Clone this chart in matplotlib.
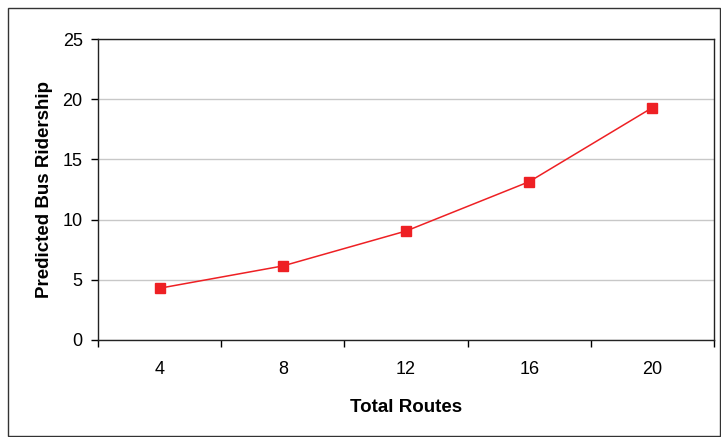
import matplotlib.pyplot as plt
from matplotlib.patches import Rectangle

routes = ["4", "8", "12", "16", "20"]
ridership = [4.3, 6.15, 9.05, 13.15, 19.3]

plt.rcParams['font.family'] = ['Liberation Sans', 'DejaVu Sans']

W, H = 721, 437
fig = plt.figure(figsize=(W / 100, H / 100), dpi=100)
ax = fig.add_axes([98 / W, 1 - 340 / H, 616 / W, 301 / H])

x = list(range(len(routes)))
ax.plot(x, ridership, color='#ee2024', lw=1.1, marker='s', ms=6.5,
        markeredgecolor='#ee2024', markerfacecolor='#ee2024')

ax.set_xlim(-0.5, len(routes) - 0.5)
ax.set_ylim(0, 25)
ax.set_yticks(range(0, 26, 5))
ax.yaxis.grid(True, color='#c8c8c8', lw=1)
ax.set_axisbelow(True)

# category ticks sit between the categories, labels centred on them
ax.set_xticks([i - 0.5 for i in range(len(routes) + 1)])
ax.set_xticklabels([])
ax.set_xticks(x, minor=True)
ax.set_xticklabels(routes, minor=True)
ax.tick_params(axis='x', which='minor', length=0, pad=15, labelsize=13)
ax.tick_params(axis='x', which='major', length=5, width=1, direction='out')
ax.tick_params(axis='y', length=5, width=1, direction='out', labelsize=13, pad=6)

for s in ax.spines.values():
    s.set_color('#222222')
    s.set_linewidth(1)

ax.set_xlabel("Total Routes", fontsize=13.5, fontweight='bold', labelpad=15)
ax.set_ylabel("Predicted Bus Ridership", fontsize=13.5, fontweight='bold', labelpad=7)

fig.patches.append(Rectangle((8 / W, 1 - 436 / H), 712 / W, 428 / H,
                             transform=fig.transFigure, fill=False,
                             edgecolor='#333333', lw=1))

fig.savefig("out.png", dpi=100)
